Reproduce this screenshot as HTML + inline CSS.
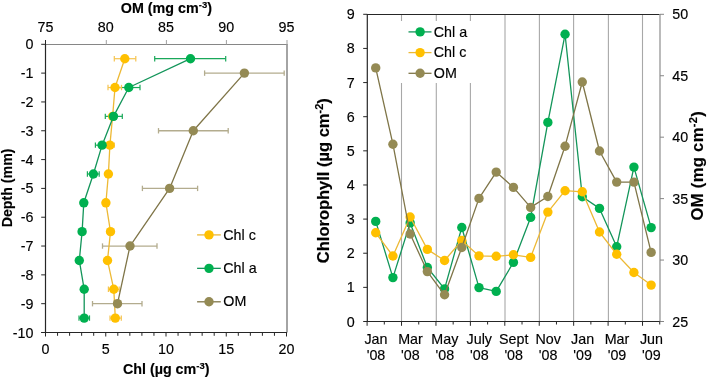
<!DOCTYPE html>
<html><head><meta charset="utf-8"><style>
html,body{margin:0;padding:0;background:#fff;}
body{width:709px;height:380px;overflow:hidden;}
svg{display:block;font-family:"Liberation Sans", sans-serif;}
svg{will-change:transform;}
text{fill:#000;stroke:#000;stroke-width:0.15px;}
</style></head><body>
<svg width="709" height="380" viewBox="0 0 709 380">
<rect width="709" height="380" fill="#fff"/>
<line x1="45.50" y1="44.50" x2="286.50" y2="44.50" stroke="#868686" stroke-width="1"/>
<line x1="45.50" y1="40.00" x2="45.50" y2="44.50" stroke="#262626" stroke-width="1"/>
<text x="45.50" y="32.20" font-size="14.3" text-anchor="middle" font-weight="normal" >75</text>
<line x1="106.30" y1="40.00" x2="106.30" y2="44.50" stroke="#A0A0A0" stroke-width="1"/>
<text x="105.75" y="32.20" font-size="14.3" text-anchor="middle" font-weight="normal" >80</text>
<line x1="166.40" y1="40.00" x2="166.40" y2="44.50" stroke="#A0A0A0" stroke-width="1"/>
<text x="166.00" y="32.20" font-size="14.3" text-anchor="middle" font-weight="normal" >85</text>
<line x1="226.40" y1="40.00" x2="226.40" y2="44.50" stroke="#A0A0A0" stroke-width="1"/>
<text x="226.25" y="32.20" font-size="14.3" text-anchor="middle" font-weight="normal" >90</text>
<line x1="287.00" y1="40.00" x2="287.00" y2="44.50" stroke="#A0A0A0" stroke-width="1"/>
<text x="286.50" y="32.20" font-size="14.3" text-anchor="middle" font-weight="normal" >95</text>
<line x1="287.00" y1="44.00" x2="287.00" y2="332.50" stroke="#868686" stroke-width="1.5"/>
<line x1="45.50" y1="44.00" x2="45.50" y2="333.00" stroke="#262626" stroke-width="1.2"/>
<line x1="41.20" y1="44.30" x2="45.50" y2="44.30" stroke="#262626" stroke-width="1"/>
<text x="33.50" y="49.30" font-size="14.3" text-anchor="end" font-weight="normal" >0</text>
<line x1="41.20" y1="73.12" x2="45.50" y2="73.12" stroke="#262626" stroke-width="1"/>
<text x="33.50" y="78.12" font-size="14.3" text-anchor="end" font-weight="normal" >-1</text>
<line x1="41.20" y1="101.94" x2="45.50" y2="101.94" stroke="#262626" stroke-width="1"/>
<text x="33.50" y="106.94" font-size="14.3" text-anchor="end" font-weight="normal" >-2</text>
<line x1="41.20" y1="130.76" x2="45.50" y2="130.76" stroke="#262626" stroke-width="1"/>
<text x="33.50" y="135.76" font-size="14.3" text-anchor="end" font-weight="normal" >-3</text>
<line x1="41.20" y1="159.58" x2="45.50" y2="159.58" stroke="#262626" stroke-width="1"/>
<text x="33.50" y="164.58" font-size="14.3" text-anchor="end" font-weight="normal" >-4</text>
<line x1="41.20" y1="188.40" x2="45.50" y2="188.40" stroke="#262626" stroke-width="1"/>
<text x="33.50" y="193.40" font-size="14.3" text-anchor="end" font-weight="normal" >-5</text>
<line x1="41.20" y1="217.22" x2="45.50" y2="217.22" stroke="#262626" stroke-width="1"/>
<text x="33.50" y="222.22" font-size="14.3" text-anchor="end" font-weight="normal" >-6</text>
<line x1="41.20" y1="246.04" x2="45.50" y2="246.04" stroke="#262626" stroke-width="1"/>
<text x="33.50" y="251.04" font-size="14.3" text-anchor="end" font-weight="normal" >-7</text>
<line x1="41.20" y1="274.86" x2="45.50" y2="274.86" stroke="#262626" stroke-width="1"/>
<text x="33.50" y="279.86" font-size="14.3" text-anchor="end" font-weight="normal" >-8</text>
<line x1="41.20" y1="303.68" x2="45.50" y2="303.68" stroke="#262626" stroke-width="1"/>
<text x="33.50" y="308.68" font-size="14.3" text-anchor="end" font-weight="normal" >-9</text>
<line x1="41.20" y1="332.50" x2="45.50" y2="332.50" stroke="#262626" stroke-width="1"/>
<text x="33.50" y="337.50" font-size="14.3" text-anchor="end" font-weight="normal" >-10</text>
<line x1="41.20" y1="332.50" x2="287.00" y2="332.50" stroke="#262626" stroke-width="1.2"/>
<line x1="45.50" y1="332.50" x2="45.50" y2="336.50" stroke="#262626" stroke-width="1"/>
<text x="45.50" y="354.00" font-size="14.3" text-anchor="middle" font-weight="normal" >0</text>
<line x1="57.55" y1="332.50" x2="57.55" y2="335.80" stroke="#262626" stroke-width="1"/>
<line x1="69.60" y1="332.50" x2="69.60" y2="335.80" stroke="#262626" stroke-width="1"/>
<line x1="81.65" y1="332.50" x2="81.65" y2="335.80" stroke="#262626" stroke-width="1"/>
<line x1="93.70" y1="332.50" x2="93.70" y2="335.80" stroke="#262626" stroke-width="1"/>
<line x1="105.75" y1="332.50" x2="105.75" y2="336.50" stroke="#262626" stroke-width="1"/>
<text x="105.75" y="354.00" font-size="14.3" text-anchor="middle" font-weight="normal" >5</text>
<line x1="117.80" y1="332.50" x2="117.80" y2="335.80" stroke="#262626" stroke-width="1"/>
<line x1="129.85" y1="332.50" x2="129.85" y2="335.80" stroke="#262626" stroke-width="1"/>
<line x1="141.90" y1="332.50" x2="141.90" y2="335.80" stroke="#262626" stroke-width="1"/>
<line x1="153.95" y1="332.50" x2="153.95" y2="335.80" stroke="#262626" stroke-width="1"/>
<line x1="166.00" y1="332.50" x2="166.00" y2="336.50" stroke="#262626" stroke-width="1"/>
<text x="166.00" y="354.00" font-size="14.3" text-anchor="middle" font-weight="normal" >10</text>
<line x1="178.05" y1="332.50" x2="178.05" y2="335.80" stroke="#262626" stroke-width="1"/>
<line x1="190.10" y1="332.50" x2="190.10" y2="335.80" stroke="#262626" stroke-width="1"/>
<line x1="202.15" y1="332.50" x2="202.15" y2="335.80" stroke="#262626" stroke-width="1"/>
<line x1="214.20" y1="332.50" x2="214.20" y2="335.80" stroke="#262626" stroke-width="1"/>
<line x1="226.25" y1="332.50" x2="226.25" y2="336.50" stroke="#262626" stroke-width="1"/>
<text x="226.25" y="354.00" font-size="14.3" text-anchor="middle" font-weight="normal" >15</text>
<line x1="238.30" y1="332.50" x2="238.30" y2="335.80" stroke="#262626" stroke-width="1"/>
<line x1="250.35" y1="332.50" x2="250.35" y2="335.80" stroke="#262626" stroke-width="1"/>
<line x1="262.40" y1="332.50" x2="262.40" y2="335.80" stroke="#262626" stroke-width="1"/>
<line x1="274.45" y1="332.50" x2="274.45" y2="335.80" stroke="#262626" stroke-width="1"/>
<line x1="286.50" y1="332.50" x2="286.50" y2="336.50" stroke="#262626" stroke-width="1"/>
<text x="286.50" y="354.00" font-size="14.3" text-anchor="middle" font-weight="normal" >20</text>
<text x="166.40" y="12.90" font-size="14.3" text-anchor="middle" font-weight="bold" >OM (mg cm<tspan dy="-5" font-size="9.5">-3</tspan><tspan dy="5">)</tspan></text>
<text x="166.20" y="374.40" font-size="14.3" text-anchor="middle" font-weight="bold" >Chl (µg cm<tspan dy="-5" font-size="9.5">-3</tspan><tspan dy="5">)</tspan></text>
<text transform="translate(12.0,187.9) rotate(-90)" x="0" y="0" font-size="14.2" text-anchor="middle" font-weight="bold">Depth (mm)</text>
<line x1="204.60" y1="73.12" x2="284.20" y2="73.12" stroke="#B3AC8E" stroke-width="1.3"/>
<line x1="204.60" y1="70.42" x2="204.60" y2="75.82" stroke="#B3AC8E" stroke-width="1.3"/>
<line x1="284.20" y1="70.42" x2="284.20" y2="75.82" stroke="#B3AC8E" stroke-width="1.3"/>
<line x1="158.50" y1="130.76" x2="228.20" y2="130.76" stroke="#B3AC8E" stroke-width="1.3"/>
<line x1="158.50" y1="128.06" x2="158.50" y2="133.46" stroke="#B3AC8E" stroke-width="1.3"/>
<line x1="228.20" y1="128.06" x2="228.20" y2="133.46" stroke="#B3AC8E" stroke-width="1.3"/>
<line x1="142.40" y1="188.40" x2="197.60" y2="188.40" stroke="#B3AC8E" stroke-width="1.3"/>
<line x1="142.40" y1="185.70" x2="142.40" y2="191.10" stroke="#B3AC8E" stroke-width="1.3"/>
<line x1="197.60" y1="185.70" x2="197.60" y2="191.10" stroke="#B3AC8E" stroke-width="1.3"/>
<line x1="102.50" y1="246.04" x2="157.00" y2="246.04" stroke="#B3AC8E" stroke-width="1.3"/>
<line x1="102.50" y1="243.34" x2="102.50" y2="248.74" stroke="#B3AC8E" stroke-width="1.3"/>
<line x1="157.00" y1="243.34" x2="157.00" y2="248.74" stroke="#B3AC8E" stroke-width="1.3"/>
<line x1="92.50" y1="303.68" x2="142.00" y2="303.68" stroke="#B3AC8E" stroke-width="1.3"/>
<line x1="92.50" y1="300.98" x2="92.50" y2="306.38" stroke="#B3AC8E" stroke-width="1.3"/>
<line x1="142.00" y1="300.98" x2="142.00" y2="306.38" stroke="#B3AC8E" stroke-width="1.3"/>
<line x1="154.70" y1="58.71" x2="225.70" y2="58.71" stroke="#1AA85A" stroke-width="1.2"/>
<line x1="154.70" y1="56.01" x2="154.70" y2="61.41" stroke="#1AA85A" stroke-width="1.2"/>
<line x1="225.70" y1="56.01" x2="225.70" y2="61.41" stroke="#1AA85A" stroke-width="1.2"/>
<line x1="117.50" y1="87.53" x2="140.00" y2="87.53" stroke="#1AA85A" stroke-width="1.2"/>
<line x1="117.50" y1="84.83" x2="117.50" y2="90.23" stroke="#1AA85A" stroke-width="1.2"/>
<line x1="140.00" y1="84.83" x2="140.00" y2="90.23" stroke="#1AA85A" stroke-width="1.2"/>
<line x1="105.30" y1="116.35" x2="122.30" y2="116.35" stroke="#1AA85A" stroke-width="1.2"/>
<line x1="105.30" y1="113.65" x2="105.30" y2="119.05" stroke="#1AA85A" stroke-width="1.2"/>
<line x1="122.30" y1="113.65" x2="122.30" y2="119.05" stroke="#1AA85A" stroke-width="1.2"/>
<line x1="95.40" y1="145.17" x2="108.80" y2="145.17" stroke="#1AA85A" stroke-width="1.2"/>
<line x1="95.40" y1="142.47" x2="95.40" y2="147.87" stroke="#1AA85A" stroke-width="1.2"/>
<line x1="108.80" y1="142.47" x2="108.80" y2="147.87" stroke="#1AA85A" stroke-width="1.2"/>
<line x1="87.40" y1="173.99" x2="99.20" y2="173.99" stroke="#1AA85A" stroke-width="1.2"/>
<line x1="87.40" y1="171.29" x2="87.40" y2="176.69" stroke="#1AA85A" stroke-width="1.2"/>
<line x1="99.20" y1="171.29" x2="99.20" y2="176.69" stroke="#1AA85A" stroke-width="1.2"/>
<line x1="79.00" y1="318.09" x2="89.50" y2="318.09" stroke="#1AA85A" stroke-width="1.2"/>
<line x1="79.00" y1="315.39" x2="79.00" y2="320.79" stroke="#1AA85A" stroke-width="1.2"/>
<line x1="89.50" y1="315.39" x2="89.50" y2="320.79" stroke="#1AA85A" stroke-width="1.2"/>
<line x1="114.30" y1="58.71" x2="135.80" y2="58.71" stroke="#F5C450" stroke-width="1.2"/>
<line x1="114.30" y1="56.01" x2="114.30" y2="61.41" stroke="#F5C450" stroke-width="1.2"/>
<line x1="135.80" y1="56.01" x2="135.80" y2="61.41" stroke="#F5C450" stroke-width="1.2"/>
<line x1="108.00" y1="87.53" x2="121.50" y2="87.53" stroke="#F5C450" stroke-width="1.2"/>
<line x1="108.00" y1="84.83" x2="108.00" y2="90.23" stroke="#F5C450" stroke-width="1.2"/>
<line x1="121.50" y1="84.83" x2="121.50" y2="90.23" stroke="#F5C450" stroke-width="1.2"/>
<line x1="105.50" y1="145.17" x2="114.30" y2="145.17" stroke="#F5C450" stroke-width="1.2"/>
<line x1="105.50" y1="142.47" x2="105.50" y2="147.87" stroke="#F5C450" stroke-width="1.2"/>
<line x1="114.30" y1="142.47" x2="114.30" y2="147.87" stroke="#F5C450" stroke-width="1.2"/>
<line x1="108.40" y1="289.27" x2="119.20" y2="289.27" stroke="#F5C450" stroke-width="1.2"/>
<line x1="108.40" y1="286.57" x2="108.40" y2="291.97" stroke="#F5C450" stroke-width="1.2"/>
<line x1="119.20" y1="286.57" x2="119.20" y2="291.97" stroke="#F5C450" stroke-width="1.2"/>
<line x1="110.00" y1="318.09" x2="121.30" y2="318.09" stroke="#F5C450" stroke-width="1.2"/>
<line x1="110.00" y1="315.39" x2="110.00" y2="320.79" stroke="#F5C450" stroke-width="1.2"/>
<line x1="121.30" y1="315.39" x2="121.30" y2="320.79" stroke="#F5C450" stroke-width="1.2"/>
<polyline points="124.80,58.71 115.00,87.53 112.60,116.35 109.90,145.17 108.40,173.99 105.90,202.81 110.50,231.63 107.50,260.45 113.80,289.27 115.30,318.09" fill="none" stroke="#EDB935" stroke-width="1.3" stroke-linejoin="round"/>
<circle cx="124.80" cy="58.71" r="4.7" fill="#FFC000"/>
<circle cx="115.00" cy="87.53" r="4.7" fill="#FFC000"/>
<circle cx="112.60" cy="116.35" r="4.7" fill="#FFC000"/>
<circle cx="109.90" cy="145.17" r="4.7" fill="#FFC000"/>
<circle cx="108.40" cy="173.99" r="4.7" fill="#FFC000"/>
<circle cx="105.90" cy="202.81" r="4.7" fill="#FFC000"/>
<circle cx="110.50" cy="231.63" r="4.7" fill="#FFC000"/>
<circle cx="107.50" cy="260.45" r="4.7" fill="#FFC000"/>
<circle cx="113.80" cy="289.27" r="4.7" fill="#FFC000"/>
<circle cx="115.30" cy="318.09" r="4.7" fill="#FFC000"/>
<polyline points="190.50,58.71 128.80,87.53 113.50,116.35 102.10,145.17 93.40,173.99 83.80,202.81 82.10,231.63 79.30,260.45 84.20,289.27 84.20,318.09" fill="none" stroke="#13955A" stroke-width="1.3" stroke-linejoin="round"/>
<circle cx="190.50" cy="58.71" r="4.7" fill="#00B050"/>
<circle cx="128.80" cy="87.53" r="4.7" fill="#00B050"/>
<circle cx="113.50" cy="116.35" r="4.7" fill="#00B050"/>
<circle cx="102.10" cy="145.17" r="4.7" fill="#00B050"/>
<circle cx="93.40" cy="173.99" r="4.7" fill="#00B050"/>
<circle cx="83.80" cy="202.81" r="4.7" fill="#00B050"/>
<circle cx="82.10" cy="231.63" r="4.7" fill="#00B050"/>
<circle cx="79.30" cy="260.45" r="4.7" fill="#00B050"/>
<circle cx="84.20" cy="289.27" r="4.7" fill="#00B050"/>
<circle cx="84.20" cy="318.09" r="4.7" fill="#00B050"/>
<polyline points="244.40,73.12 193.30,130.76 169.60,188.40 130.00,246.04 117.50,303.68" fill="none" stroke="#7F7548" stroke-width="1.3" stroke-linejoin="round"/>
<circle cx="244.40" cy="73.12" r="4.7" fill="#948A54"/>
<circle cx="193.30" cy="130.76" r="4.7" fill="#948A54"/>
<circle cx="169.60" cy="188.40" r="4.7" fill="#948A54"/>
<circle cx="130.00" cy="246.04" r="4.7" fill="#948A54"/>
<circle cx="117.50" cy="303.68" r="4.7" fill="#948A54"/>
<line x1="197.10" y1="234.90" x2="220.80" y2="234.90" stroke="#EDB935" stroke-width="1.3"/>
<circle cx="209.00" cy="234.90" r="4.7" fill="#FFC000"/>
<text x="223.30" y="239.50" font-size="14.3" text-anchor="start" font-weight="normal" >Chl c</text>
<line x1="197.10" y1="268.35" x2="220.80" y2="268.35" stroke="#13955A" stroke-width="1.3"/>
<circle cx="209.00" cy="268.35" r="4.7" fill="#00B050"/>
<text x="223.30" y="272.95" font-size="14.3" text-anchor="start" font-weight="normal" >Chl a</text>
<line x1="197.10" y1="301.80" x2="220.80" y2="301.80" stroke="#7F7548" stroke-width="1.3"/>
<circle cx="209.00" cy="301.80" r="4.7" fill="#948A54"/>
<text x="223.30" y="306.40" font-size="14.3" text-anchor="start" font-weight="normal" >OM</text>
<line x1="401.50" y1="14.30" x2="401.50" y2="321.50" stroke="#A8A8A8" stroke-width="1.1"/>
<line x1="436.30" y1="14.30" x2="436.30" y2="321.50" stroke="#A8A8A8" stroke-width="1.1"/>
<line x1="470.40" y1="14.30" x2="470.40" y2="321.50" stroke="#A8A8A8" stroke-width="1.1"/>
<line x1="505.00" y1="14.30" x2="505.00" y2="321.50" stroke="#A8A8A8" stroke-width="1.1"/>
<line x1="539.40" y1="14.30" x2="539.40" y2="321.50" stroke="#A8A8A8" stroke-width="1.1"/>
<line x1="573.60" y1="14.30" x2="573.60" y2="321.50" stroke="#A8A8A8" stroke-width="1.1"/>
<line x1="608.40" y1="14.30" x2="608.40" y2="321.50" stroke="#A8A8A8" stroke-width="1.1"/>
<line x1="642.50" y1="14.30" x2="642.50" y2="321.50" stroke="#A8A8A8" stroke-width="1.1"/>
<rect x="398" y="21" width="80" height="62" fill="#fff"/>
<line x1="367.10" y1="14.50" x2="659.74" y2="14.50" stroke="#262626" stroke-width="1.2"/>
<line x1="660.00" y1="14.00" x2="660.00" y2="321.50" stroke="#969696" stroke-width="1.3"/>
<line x1="660.00" y1="321.50" x2="664.00" y2="321.50" stroke="#868686" stroke-width="1"/>
<text x="672.30" y="326.50" font-size="14.3" text-anchor="start" font-weight="normal" >25</text>
<line x1="660.00" y1="260.06" x2="664.00" y2="260.06" stroke="#868686" stroke-width="1"/>
<text x="672.30" y="265.06" font-size="14.3" text-anchor="start" font-weight="normal" >30</text>
<line x1="660.00" y1="198.62" x2="664.00" y2="198.62" stroke="#868686" stroke-width="1"/>
<text x="672.30" y="203.62" font-size="14.3" text-anchor="start" font-weight="normal" >35</text>
<line x1="660.00" y1="137.18" x2="664.00" y2="137.18" stroke="#868686" stroke-width="1"/>
<text x="672.30" y="142.18" font-size="14.3" text-anchor="start" font-weight="normal" >40</text>
<line x1="660.00" y1="75.74" x2="664.00" y2="75.74" stroke="#868686" stroke-width="1"/>
<text x="672.30" y="80.74" font-size="14.3" text-anchor="start" font-weight="normal" >45</text>
<line x1="660.00" y1="14.30" x2="664.00" y2="14.30" stroke="#868686" stroke-width="1"/>
<text x="672.30" y="19.30" font-size="14.3" text-anchor="start" font-weight="normal" >50</text>
<line x1="367.30" y1="14.00" x2="367.30" y2="322.00" stroke="#262626" stroke-width="1.2"/>
<line x1="363.20" y1="321.50" x2="367.30" y2="321.50" stroke="#262626" stroke-width="1"/>
<text x="354.60" y="326.50" font-size="14.3" text-anchor="end" font-weight="normal" >0</text>
<line x1="363.20" y1="287.37" x2="367.30" y2="287.37" stroke="#262626" stroke-width="1"/>
<text x="354.60" y="292.37" font-size="14.3" text-anchor="end" font-weight="normal" >1</text>
<line x1="363.20" y1="253.23" x2="367.30" y2="253.23" stroke="#262626" stroke-width="1"/>
<text x="354.60" y="258.23" font-size="14.3" text-anchor="end" font-weight="normal" >2</text>
<line x1="363.20" y1="219.10" x2="367.30" y2="219.10" stroke="#262626" stroke-width="1"/>
<text x="354.60" y="224.10" font-size="14.3" text-anchor="end" font-weight="normal" >3</text>
<line x1="363.20" y1="184.97" x2="367.30" y2="184.97" stroke="#262626" stroke-width="1"/>
<text x="354.60" y="189.97" font-size="14.3" text-anchor="end" font-weight="normal" >4</text>
<line x1="363.20" y1="150.83" x2="367.30" y2="150.83" stroke="#262626" stroke-width="1"/>
<text x="354.60" y="155.83" font-size="14.3" text-anchor="end" font-weight="normal" >5</text>
<line x1="363.20" y1="116.70" x2="367.30" y2="116.70" stroke="#262626" stroke-width="1"/>
<text x="354.60" y="121.70" font-size="14.3" text-anchor="end" font-weight="normal" >6</text>
<line x1="363.20" y1="82.57" x2="367.30" y2="82.57" stroke="#262626" stroke-width="1"/>
<text x="354.60" y="87.57" font-size="14.3" text-anchor="end" font-weight="normal" >7</text>
<line x1="363.20" y1="48.43" x2="367.30" y2="48.43" stroke="#262626" stroke-width="1"/>
<text x="354.60" y="53.43" font-size="14.3" text-anchor="end" font-weight="normal" >8</text>
<line x1="363.20" y1="14.30" x2="367.30" y2="14.30" stroke="#262626" stroke-width="1"/>
<text x="354.60" y="19.30" font-size="14.3" text-anchor="end" font-weight="normal" >9</text>
<line x1="367.10" y1="321.50" x2="659.74" y2="321.50" stroke="#262626" stroke-width="1.2"/>
<line x1="367.10" y1="321.50" x2="367.10" y2="325.80" stroke="#262626" stroke-width="1"/>
<line x1="384.31" y1="321.50" x2="384.31" y2="324.50" stroke="#262626" stroke-width="1"/>
<line x1="401.53" y1="321.50" x2="401.53" y2="325.80" stroke="#262626" stroke-width="1"/>
<line x1="418.74" y1="321.50" x2="418.74" y2="324.50" stroke="#262626" stroke-width="1"/>
<line x1="435.96" y1="321.50" x2="435.96" y2="325.80" stroke="#262626" stroke-width="1"/>
<line x1="453.17" y1="321.50" x2="453.17" y2="324.50" stroke="#262626" stroke-width="1"/>
<line x1="470.38" y1="321.50" x2="470.38" y2="325.80" stroke="#262626" stroke-width="1"/>
<line x1="487.60" y1="321.50" x2="487.60" y2="324.50" stroke="#262626" stroke-width="1"/>
<line x1="504.81" y1="321.50" x2="504.81" y2="325.80" stroke="#262626" stroke-width="1"/>
<line x1="522.03" y1="321.50" x2="522.03" y2="324.50" stroke="#262626" stroke-width="1"/>
<line x1="539.24" y1="321.50" x2="539.24" y2="325.80" stroke="#262626" stroke-width="1"/>
<line x1="556.46" y1="321.50" x2="556.46" y2="324.50" stroke="#262626" stroke-width="1"/>
<line x1="573.67" y1="321.50" x2="573.67" y2="325.80" stroke="#262626" stroke-width="1"/>
<line x1="590.88" y1="321.50" x2="590.88" y2="324.50" stroke="#262626" stroke-width="1"/>
<line x1="608.10" y1="321.50" x2="608.10" y2="325.80" stroke="#262626" stroke-width="1"/>
<line x1="625.31" y1="321.50" x2="625.31" y2="324.50" stroke="#262626" stroke-width="1"/>
<line x1="642.53" y1="321.50" x2="642.53" y2="325.80" stroke="#262626" stroke-width="1"/>
<line x1="659.74" y1="321.50" x2="659.74" y2="324.50" stroke="#262626" stroke-width="1"/>
<text x="376.01" y="343.70" font-size="14.3" text-anchor="middle" font-weight="normal" >Jan</text>
<text x="376.01" y="360.10" font-size="14.3" text-anchor="middle" font-weight="normal" >'08</text>
<text x="410.44" y="343.70" font-size="14.3" text-anchor="middle" font-weight="normal" >Mar</text>
<text x="410.44" y="360.10" font-size="14.3" text-anchor="middle" font-weight="normal" >'08</text>
<text x="444.86" y="343.70" font-size="14.3" text-anchor="middle" font-weight="normal" >May</text>
<text x="444.86" y="360.10" font-size="14.3" text-anchor="middle" font-weight="normal" >'08</text>
<text x="479.29" y="343.70" font-size="14.3" text-anchor="middle" font-weight="normal" >July</text>
<text x="479.29" y="360.10" font-size="14.3" text-anchor="middle" font-weight="normal" >'08</text>
<text x="513.72" y="343.70" font-size="14.3" text-anchor="middle" font-weight="normal" >Sept</text>
<text x="513.72" y="360.10" font-size="14.3" text-anchor="middle" font-weight="normal" >'08</text>
<text x="548.15" y="343.70" font-size="14.3" text-anchor="middle" font-weight="normal" >Nov</text>
<text x="548.15" y="360.10" font-size="14.3" text-anchor="middle" font-weight="normal" >'08</text>
<text x="582.58" y="343.70" font-size="14.3" text-anchor="middle" font-weight="normal" >Jan</text>
<text x="582.58" y="360.10" font-size="14.3" text-anchor="middle" font-weight="normal" >'09</text>
<text x="617.00" y="343.70" font-size="14.3" text-anchor="middle" font-weight="normal" >Mar</text>
<text x="617.00" y="360.10" font-size="14.3" text-anchor="middle" font-weight="normal" >'09</text>
<text x="651.43" y="343.70" font-size="14.3" text-anchor="middle" font-weight="normal" >Jun</text>
<text x="651.43" y="360.10" font-size="14.3" text-anchor="middle" font-weight="normal" >'09</text>
<text transform="translate(328.5,180.7) rotate(-90)" x="0" y="0" font-size="16.5" text-anchor="middle" font-weight="bold" textLength="165" lengthAdjust="spacing">Chlorophyll (µg cm<tspan dy="-6" font-size="11">-2</tspan><tspan dy="6">)</tspan></text>
<text transform="translate(702.6,165.9) rotate(-90)" x="0" y="0" font-size="16.5" text-anchor="middle" font-weight="bold" textLength="109.3" lengthAdjust="spacing">OM (mg cm<tspan dy="-6" font-size="11">-2</tspan><tspan dy="6">)</tspan></text>
<polyline points="375.71,221.40 392.92,277.60 410.14,222.90 427.35,267.50 444.56,288.90 461.78,227.50 478.99,287.60 496.21,291.40 513.42,262.40 530.63,217.40 547.85,122.40 565.06,34.30 582.28,196.70 599.49,208.40 616.70,246.70 633.92,167.10 651.13,227.60" fill="none" stroke="#13955A" stroke-width="1.3" stroke-linejoin="round"/>
<circle cx="375.71" cy="221.40" r="4.7" fill="#00B050"/>
<circle cx="392.92" cy="277.60" r="4.7" fill="#00B050"/>
<circle cx="410.14" cy="222.90" r="4.7" fill="#00B050"/>
<circle cx="427.35" cy="267.50" r="4.7" fill="#00B050"/>
<circle cx="444.56" cy="288.90" r="4.7" fill="#00B050"/>
<circle cx="461.78" cy="227.50" r="4.7" fill="#00B050"/>
<circle cx="478.99" cy="287.60" r="4.7" fill="#00B050"/>
<circle cx="496.21" cy="291.40" r="4.7" fill="#00B050"/>
<circle cx="513.42" cy="262.40" r="4.7" fill="#00B050"/>
<circle cx="530.63" cy="217.40" r="4.7" fill="#00B050"/>
<circle cx="547.85" cy="122.40" r="4.7" fill="#00B050"/>
<circle cx="565.06" cy="34.30" r="4.7" fill="#00B050"/>
<circle cx="582.28" cy="196.70" r="4.7" fill="#00B050"/>
<circle cx="599.49" cy="208.40" r="4.7" fill="#00B050"/>
<circle cx="616.70" cy="246.70" r="4.7" fill="#00B050"/>
<circle cx="633.92" cy="167.10" r="4.7" fill="#00B050"/>
<circle cx="651.13" cy="227.60" r="4.7" fill="#00B050"/>
<polyline points="375.71,232.80 392.92,256.00 410.14,217.00 427.35,249.40 444.56,260.50 461.78,240.50 478.99,255.90 496.21,256.30 513.42,254.80 530.63,257.40 547.85,212.10 565.06,190.70 582.28,191.80 599.49,232.00 616.70,254.30 633.92,272.50 651.13,285.10" fill="none" stroke="#EDB935" stroke-width="1.3" stroke-linejoin="round"/>
<circle cx="375.71" cy="232.80" r="4.7" fill="#FFC000"/>
<circle cx="392.92" cy="256.00" r="4.7" fill="#FFC000"/>
<circle cx="410.14" cy="217.00" r="4.7" fill="#FFC000"/>
<circle cx="427.35" cy="249.40" r="4.7" fill="#FFC000"/>
<circle cx="444.56" cy="260.50" r="4.7" fill="#FFC000"/>
<circle cx="461.78" cy="240.50" r="4.7" fill="#FFC000"/>
<circle cx="478.99" cy="255.90" r="4.7" fill="#FFC000"/>
<circle cx="496.21" cy="256.30" r="4.7" fill="#FFC000"/>
<circle cx="513.42" cy="254.80" r="4.7" fill="#FFC000"/>
<circle cx="530.63" cy="257.40" r="4.7" fill="#FFC000"/>
<circle cx="547.85" cy="212.10" r="4.7" fill="#FFC000"/>
<circle cx="565.06" cy="190.70" r="4.7" fill="#FFC000"/>
<circle cx="582.28" cy="191.80" r="4.7" fill="#FFC000"/>
<circle cx="599.49" cy="232.00" r="4.7" fill="#FFC000"/>
<circle cx="616.70" cy="254.30" r="4.7" fill="#FFC000"/>
<circle cx="633.92" cy="272.50" r="4.7" fill="#FFC000"/>
<circle cx="651.13" cy="285.10" r="4.7" fill="#FFC000"/>
<polyline points="375.71,67.90 392.92,144.20 410.14,234.00 427.35,271.60 444.56,294.80 461.78,247.50 478.99,198.40 496.21,172.10 513.42,187.40 530.63,207.40 547.85,196.50 565.06,146.20 582.28,82.00 599.49,151.00 616.70,182.10 633.92,182.10 651.13,252.40" fill="none" stroke="#7F7548" stroke-width="1.3" stroke-linejoin="round"/>
<circle cx="375.71" cy="67.90" r="4.7" fill="#948A54"/>
<circle cx="392.92" cy="144.20" r="4.7" fill="#948A54"/>
<circle cx="410.14" cy="234.00" r="4.7" fill="#948A54"/>
<circle cx="427.35" cy="271.60" r="4.7" fill="#948A54"/>
<circle cx="444.56" cy="294.80" r="4.7" fill="#948A54"/>
<circle cx="461.78" cy="247.50" r="4.7" fill="#948A54"/>
<circle cx="478.99" cy="198.40" r="4.7" fill="#948A54"/>
<circle cx="496.21" cy="172.10" r="4.7" fill="#948A54"/>
<circle cx="513.42" cy="187.40" r="4.7" fill="#948A54"/>
<circle cx="530.63" cy="207.40" r="4.7" fill="#948A54"/>
<circle cx="547.85" cy="196.50" r="4.7" fill="#948A54"/>
<circle cx="565.06" cy="146.20" r="4.7" fill="#948A54"/>
<circle cx="582.28" cy="82.00" r="4.7" fill="#948A54"/>
<circle cx="599.49" cy="151.00" r="4.7" fill="#948A54"/>
<circle cx="616.70" cy="182.10" r="4.7" fill="#948A54"/>
<circle cx="633.92" cy="182.10" r="4.7" fill="#948A54"/>
<circle cx="651.13" cy="252.40" r="4.7" fill="#948A54"/>
<line x1="408.50" y1="31.90" x2="431.50" y2="31.90" stroke="#13955A" stroke-width="1.3"/>
<circle cx="420.10" cy="31.90" r="4.7" fill="#00B050"/>
<text x="433.80" y="36.70" font-size="14.3" text-anchor="start" font-weight="normal" >Chl a</text>
<line x1="408.50" y1="52.60" x2="431.50" y2="52.60" stroke="#EDB935" stroke-width="1.3"/>
<circle cx="420.10" cy="52.60" r="4.7" fill="#FFC000"/>
<text x="433.80" y="57.40" font-size="14.3" text-anchor="start" font-weight="normal" >Chl c</text>
<line x1="408.50" y1="73.30" x2="431.50" y2="73.30" stroke="#7F7548" stroke-width="1.3"/>
<circle cx="420.10" cy="73.30" r="4.7" fill="#948A54"/>
<text x="433.80" y="78.10" font-size="14.3" text-anchor="start" font-weight="normal" >OM</text>
</svg>
</body></html>
